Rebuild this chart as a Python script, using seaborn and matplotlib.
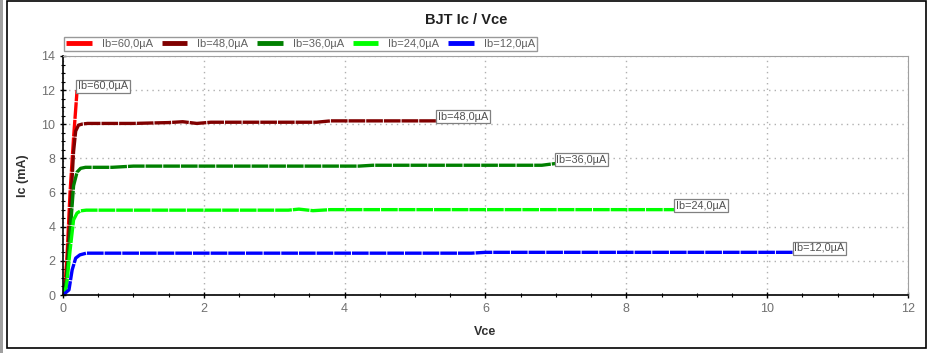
import matplotlib
matplotlib.use("Agg")
import matplotlib.pyplot as plt
import matplotlib.patches as mpatches
from matplotlib.ticker import MultipleLocator
import pandas as pd
import seaborn as sns

# --- data (Vce in V, Ic in mA) ---
labels = ["Ib=60,0µA", "Ib=48,0µA", "Ib=36,0µA", "Ib=24,0µA", "Ib=12,0µA"]
colors = ["#ff0000", "#800000", "#008000", "#00ff00", "#0000ff"]

vce_60 = [0, 0.03, 0.06, 0.10, 0.15, 0.20]
ic_60 = [0, 0.6, 2.5, 6.0, 9.2, 12.0]

vce_48 = [0, 0.05, 0.10, 0.15, 0.18, 0.22, 0.28, 0.35, 1.0, 1.5, 1.7, 1.9, 2.1, 3.0, 3.6, 3.8, 5.31]
ic_48 = [0, 1.0, 4.6, 8.4, 9.6, 9.95, 10.02, 10.05, 10.05, 10.1, 10.15, 10.05, 10.12, 10.12, 10.12, 10.2, 10.2]

vce_36 = [0, 0.05, 0.10, 0.15, 0.20, 0.25, 0.32, 0.7, 1.0, 4.2, 4.4, 6.8, 6.99]
ic_36 = [0, 0.8, 3.6, 6.4, 7.2, 7.42, 7.48, 7.48, 7.55, 7.55, 7.6, 7.6, 7.7]

vce_24 = [0, 0.05, 0.10, 0.15, 0.20, 0.25, 0.33, 3.2, 3.35, 3.55, 3.8, 8.69]
ic_24 = [0, 0.5, 2.6, 4.4, 4.8, 4.93, 4.97, 4.97, 5.03, 4.94, 5.0, 5.0]

vce_12 = [0, 0.085, 0.13, 0.18, 0.24, 0.33, 5.8, 6.0, 10.37]
ic_12 = [0, 0.3, 1.47, 2.16, 2.35, 2.45, 2.45, 2.5, 2.5]

series = [(vce_60, ic_60), (vce_48, ic_48), (vce_36, ic_36), (vce_24, ic_24), (vce_12, ic_12)]

# --- style ---
sns.set_style("white")
plt.rcParams["font.family"] = ["Liberation Sans", "DejaVu Sans"]
tick_grey = "#707070"

fig = plt.figure(figsize=(9.28, 3.53), dpi=100)
ax = fig.add_axes([63 / 928, 1 - 295 / 353, 845 / 928, 239 / 353])

for (x, y), lab, col in zip(series, labels, colors):
    df = pd.DataFrame({"Vce": x, "Ic": y})
    sns.lineplot(data=df, x="Vce", y="Ic", color=col, label=lab, ax=ax,
                 sort=False, estimator=None, linewidth=2.4,
                 linestyle=(0, (5, 0.3)), dash_capstyle="butt")

# end-of-curve labels
for (x, y), lab in zip(series, labels):
    ax.annotate(lab, xy=(x[-1], y[-1]), xytext=(1, 4), textcoords="offset pixels",
                ha="left", va="center", fontsize=7.8, color="#505050",
                bbox=dict(boxstyle="square,pad=0.15", fc="white", ec="#808080", lw=0.9))

ax.set_xlim(0, 12)
ax.set_ylim(0, 14)
ax.xaxis.set_major_locator(MultipleLocator(2))
ax.xaxis.set_minor_locator(MultipleLocator(0.5))
ax.yaxis.set_major_locator(MultipleLocator(2))
ax.yaxis.set_minor_locator(MultipleLocator(0.5))
ax.tick_params(which="both", bottom=True, left=True, top=False, right=False)
ax.tick_params(which="major", direction="inout", length=5, width=1, color="black",
               labelsize=9, labelcolor=tick_grey, pad=3)
ax.tick_params(which="minor", direction="inout", length=2.5, width=0.8, color="black")
ax.grid(True, which="major", linestyle=(0, (1, 3)), color="#b0b0b0", linewidth=1)

for side in ["left", "bottom"]:
    ax.spines[side].set_color("black")
    ax.spines[side].set_linewidth(1.2)
for side in ["top", "right"]:
    ax.spines[side].set_color("#a0a0a0")
    ax.spines[side].set_linewidth(0.8)

ax.set_xlabel("Vce", fontsize=9, fontweight="bold", color="#303030", labelpad=8)
ax.set_ylabel("Ic (mA)", fontsize=9, fontweight="bold", color="#303030", labelpad=9)

fig.text(466 / 928, 1 - 20 / 353, "BJT Ic / Vce", ha="center", va="center",
         fontsize=10.5, fontweight="bold", color="#202020")

leg = ax.legend(loc="upper left", bbox_to_anchor=(64 / 928, 1 - 37 / 353),
                bbox_transform=fig.transFigure, ncol=5, fontsize=8, frameon=True,
                fancybox=False, borderaxespad=0, borderpad=0.2, handlelength=2.3,
                handletextpad=0.9, columnspacing=0.8, labelcolor="#606060")
leg.get_frame().set_edgecolor("#808080")
leg.get_frame().set_linewidth(1)
for h in leg.get_lines():
    h.set_linestyle("-")
    h.set_linewidth(3.5)
    h.set_solid_capstyle("butt")

# outer frame like the original widget
fig.patches.append(mpatches.Rectangle((0, 0), 2.5 / 928, 1, transform=fig.transFigure,
                                      facecolor="#a0a0a0", edgecolor="none"))
fig.patches.append(mpatches.Rectangle((7 / 928, 1 - 348 / 353), 919 / 928, 347 / 353,
                                      transform=fig.transFigure, facecolor="none",
                                      edgecolor="black", linewidth=1.2))

fig.savefig("out.png", dpi=100)
